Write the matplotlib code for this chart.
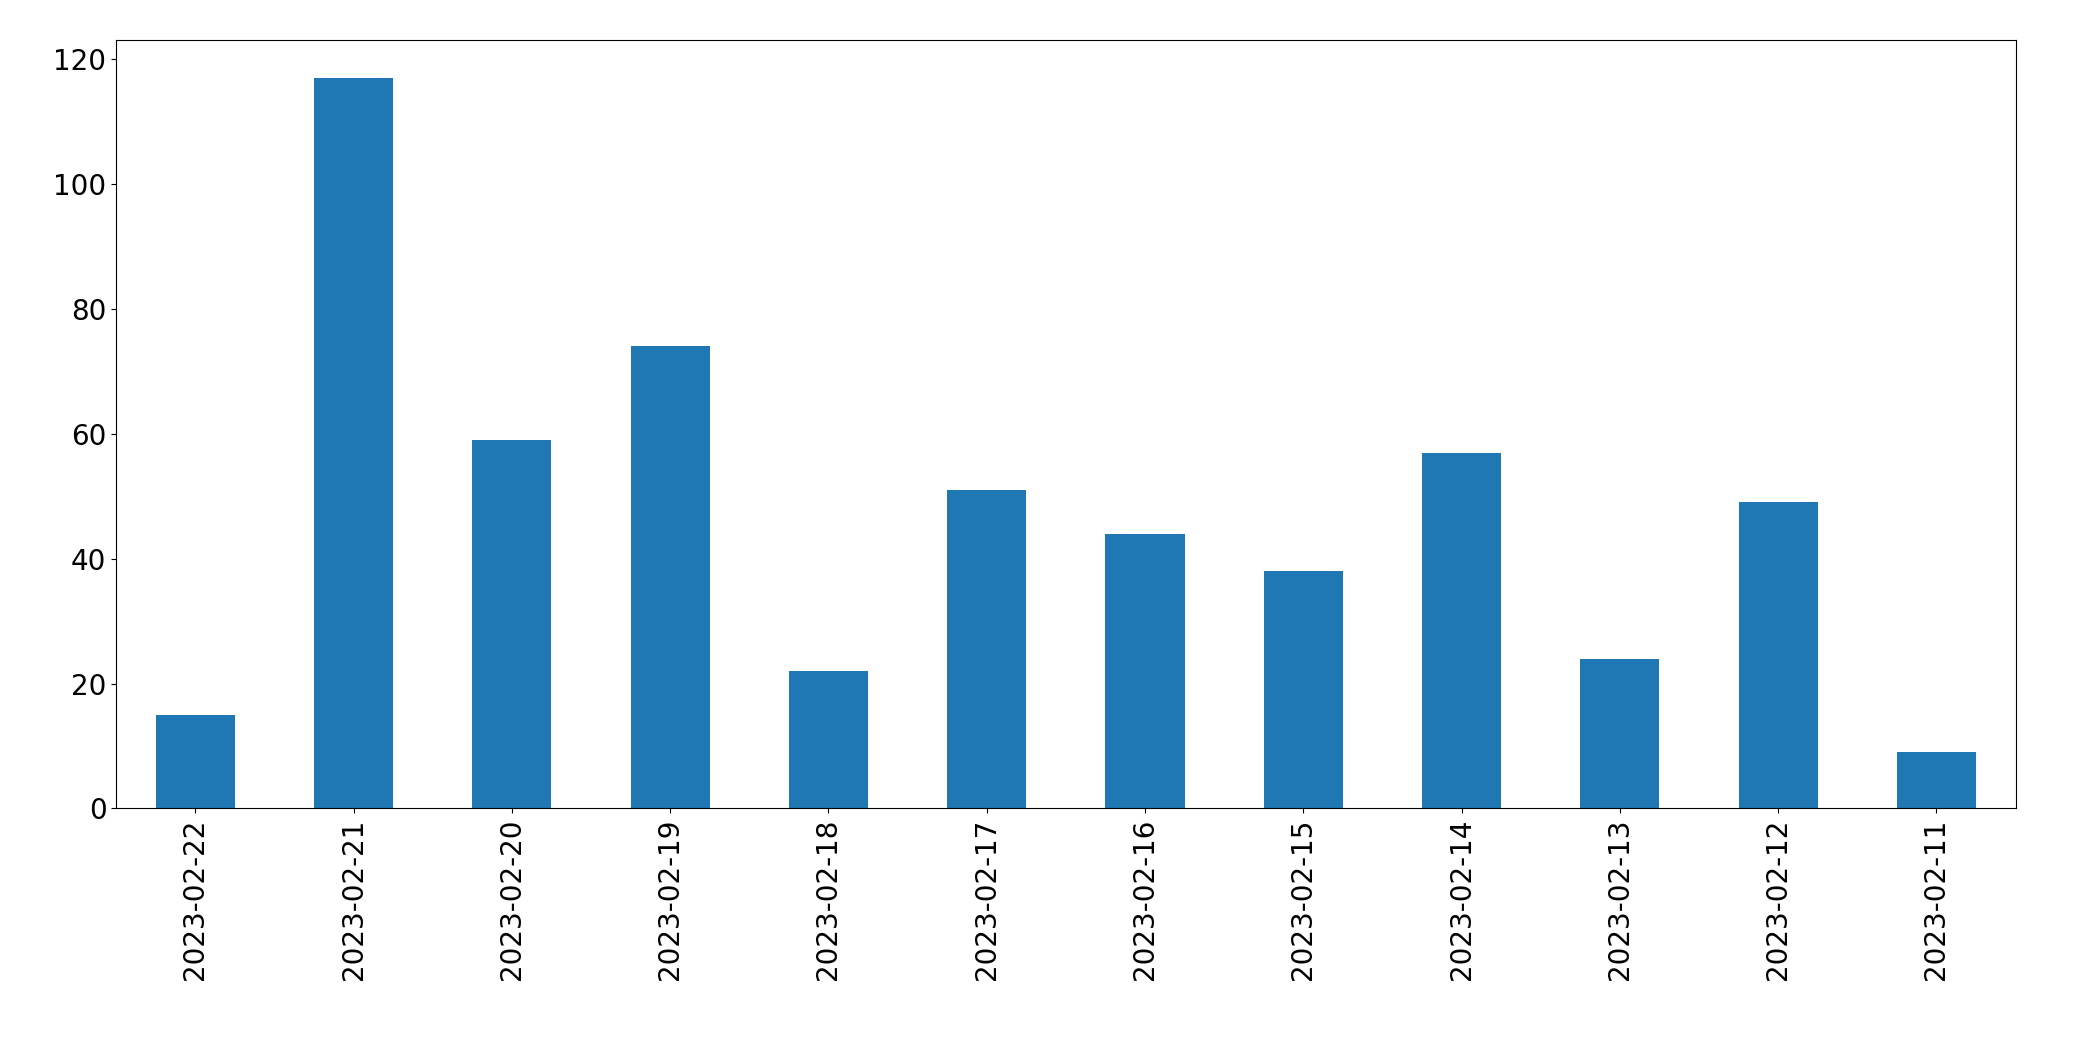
import matplotlib
matplotlib.use("Agg")
import matplotlib.pyplot as plt
import numpy as np

dates = ["2023-02-22","2023-02-21","2023-02-20","2023-02-19","2023-02-18","2023-02-17",
         "2023-02-16","2023-02-15","2023-02-14","2023-02-13","2023-02-12","2023-02-11"]
counts = [15, 117, 59, 74, 22, 51, 44, 38, 57, 24, 49, 9]

fig = plt.figure(figsize=(20.93, 10.61), dpi=100)
ax = fig.add_axes([0.0555, 0.238, 0.9075, 0.724])
x = np.arange(len(dates))
ax.bar(x, counts, width=0.5, color="#1f77b4")
ax.set_xticks(x)
ax.set_xticklabels(dates, rotation=90)
ax.set_xlim(-0.5, len(dates) - 0.5)
ax.set_ylim(0, 123)
ax.tick_params(labelsize=20)
fig.savefig("out.png", dpi=100)
